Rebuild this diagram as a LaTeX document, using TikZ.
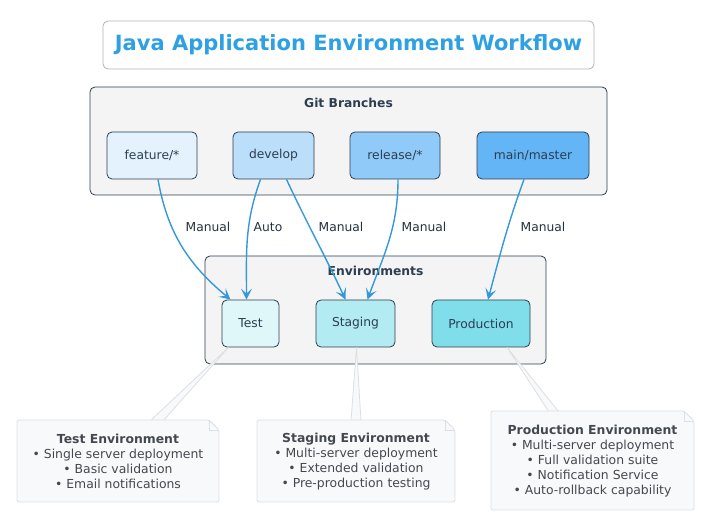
\documentclass[tikz,border=0pt]{standalone}
\usepackage{fontspec}
\setmainfont{DejaVu Sans}
\usetikzlibrary{arrows.meta}
\definecolor{navy}{RGB}{44,62,80}
\definecolor{boxgray}{RGB}{244,244,244}
\definecolor{flowblue}{RGB}{52,152,219}
\definecolor{titleblue}{RGB}{46,160,228}
\definecolor{notefill}{RGB}{248,249,250}
\definecolor{noteline}{RGB}{220,223,228}
\definecolor{notetext}{RGB}{68,73,80}
\definecolor{bA}{RGB}{227,242,253}
\definecolor{bB}{RGB}{187,222,251}
\definecolor{bC}{RGB}{144,202,249}
\definecolor{bD}{RGB}{100,181,246}
\definecolor{eA}{RGB}{224,247,250}
\definecolor{eB}{RGB}{178,235,242}
\definecolor{eC}{RGB}{128,222,234}

\begin{document}
\begin{tikzpicture}[x=1pt,y=1pt,
		branch/.style={draw=navy, line width=0.8pt, rounded corners=5pt, minimum height=47pt, inner sep=0pt, text=navy, font=\fontsize{12.3}{14}\selectfont},
		group/.style={draw=navy, line width=0.8pt, fill=boxgray, rounded corners=5pt},
		grouplbl/.style={text=navy, font=\fontsize{12.3}{14}\selectfont\bfseries},
		flow/.style={draw=flowblue, line width=1.4pt, -{Stealth[length=11pt,width=11pt,inset=5pt]}},
		lbl/.style={text=navy!80!black, font=\fontsize{12.3}{14}\selectfont},
		note/.style={inner sep=0pt, align=center, text=notetext, font=\fontsize{12.4}{15}\selectfont},
		wedge/.style={fill=notefill, draw=noteline, line width=0.8pt}
	]
	\useasboundingbox (0,0) rectangle (705,-521);

	\node[draw=black!30, line width=0.8pt, rounded corners=5pt, minimum width=491pt, minimum height=48pt, text=titleblue, font=\fontsize{21}{24}\selectfont\bfseries] (title) at (348.5,-45) {Java Application Environment Workflow};

	\draw[group] (90,-87) rectangle (607,-195);
	\node[grouplbl] (gitlbl) at (348.5,-103) {Git Branches};
	\draw[group] (205,-256) rectangle (546,-364);
	\node[grouplbl] (envlbl) at (375.5,-271) {Environments};

	\foreach \n/\x/\w/\c/\t in {feature/152/90/bA/{feature/*}, develop/273.5/81/bB/develop, release/395/90/bC/{release/*}, main/533/112/bD/{main/master}}{
			\node[branch, fill=\c, minimum width=\w pt] (\n) at (\x,-155.5) {\t};
		}
	\foreach \n/\x/\w/\c/\t in {test/250.5/57/eA/Test, staging/355.5/79/eB/Staging, prod/481/98/eC/Production}{
			\node[branch, fill=\c, minimum width=\w pt] (\n) at (\x,-323.5) {\t};
		}

	\draw[flow] ([xshift=6pt]feature.south) to[out=-80, in=140] ([xshift=-20pt]test.north);
	\draw[flow] ([xshift=-13pt]develop.south) to[out=-110, in=90] ([xshift=-4pt]test.north);
	\draw[flow] ([xshift=13pt]develop.south) to[out=-65, in=115] ([xshift=-10pt]staging.north);
	\draw[flow] ([xshift=3pt]release.south) to[out=-90, in=70] ([xshift=12pt]staging.north);
	\draw[flow] ([xshift=-9pt]main.south) to[out=-110, in=75] ([xshift=7pt]prod.north);

	\node[lbl] (m1) at (208,-227) {Manual};
	\node[lbl] (a1) at (268,-227) {Auto};
	\node[lbl] (m2) at (341,-227) {Manual};
	\node[lbl] (m3) at (424,-227) {Manual};
	\node[lbl] (m4) at (543,-227) {Manual};

	\draw[wedge] ([xshift=-22pt]test.south) -- (150,-421) -- (163,-421) -- cycle;
	\draw[wedge] ([xshift=1pt]staging.south) -- (351,-421) -- (361,-421) -- cycle;
	\draw[wedge] ([xshift=26pt]prod.south) -- (549,-412) -- (559,-412) -- cycle;

	\foreach \n/\x/\y/\w/\h in {ntest/118/-461/202/82, nstaging/356/-461/198/82, nprod/592.5/-460.5/203/99}{
			\draw[fill=notefill, draw=noteline, line width=0.8pt, rounded corners=2pt]
			(\x-\w/2,\y+\h/2) -- (\x+\w/2-10,\y+\h/2) -- (\x+\w/2,\y+\h/2-10) -- (\x+\w/2,\y-\h/2) -- (\x-\w/2,\y-\h/2) -- cycle;
			\draw[draw=noteline, line width=0.8pt] (\x+\w/2-10,\y+\h/2) -- ++(0,-10) -- ++(10,0);
		}

	\node[note] (ttest) at (118,-461.5) {\textbf{Test Environment}\\• Single server deployment\\• Basic validation\\• Email notifications};
	\node[note] (tstaging) at (356,-461.5) {\textbf{Staging Environment}\\• Multi-server deployment\\• Extended validation\\• Pre-production testing};
	\node[note] (tprod) at (592.5,-461) {\textbf{Production Environment}\\• Multi-server deployment\\• Full validation suite\\• Notification Service\\• Auto-rollback capability};

\end{tikzpicture}
\end{document}
